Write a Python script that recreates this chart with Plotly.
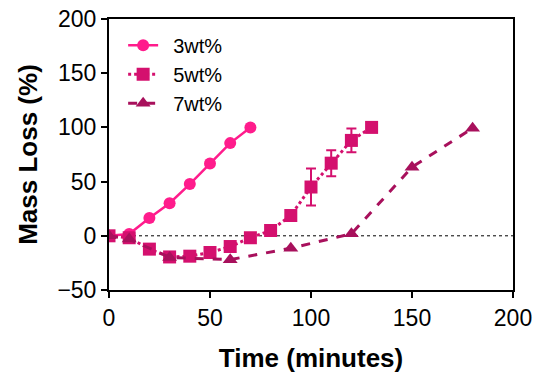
import plotly.graph_objects as go

# Data
t3 = [0, 10, 20, 30, 40, 50, 60, 70]
y3 = [0, 1.6, 16.5, 30, 47.7, 66.7, 85.5, 100]

t5 = [0, 10, 20, 30, 40, 50, 60, 70, 80, 90, 100, 110, 120, 130]
y5 = [0, -1.8, -12.3, -19.5, -18.8, -15.4, -9.9, -1.8, 4.9, 18.7, 45, 67, 88, 100]
e5 = [0, 0, 0, 0, 0, 0, 0, 0, 0, 0, 17, 12, 11, 0]

t7 = [0, 10, 30, 60, 90, 120, 150, 180]
y7 = [0, -3, -20, -22, -11.4, 1.8, 63.3, 99.3]

names = ["3wt%", "5wt%", "7wt%"]

c3 = "#FF1C8C"
c5 = "#D4106E"
c7 = "#A8105C"

FONT = "Arial, Liberation Sans, sans-serif"
PAD = "\u2002"

fig = go.Figure()
fig.add_hline(y=0, line=dict(color="black", width=1, dash="dot"), layer="below")

fig.add_trace(go.Scatter(
    x=t3, y=y3, name=PAD + names[0], mode="lines+markers",
    line=dict(color=c3, width=2.5),
    marker=dict(symbol="circle", size=12, color=c3)))
fig.add_trace(go.Scatter(
    x=t5, y=y5, name=PAD + names[1], mode="lines+markers",
    line=dict(color=c5, width=3, dash="dot"),
    marker=dict(symbol="square", size=13, color=c5),
    error_y=dict(type="data", array=e5, color=c5, thickness=2, width=5)))
fig.add_trace(go.Scatter(
    x=t7, y=y7, name=PAD + names[2], mode="lines+markers",
    line=dict(color=c7, width=3, dash="dash"),
    marker=dict(symbol="triangle-up", size=13, color=c7)))

fig.update_layout(
    width=534, height=380,
    margin=dict(l=109, r=21, t=19, b=90),
    plot_bgcolor="white", paper_bgcolor="white",
    font=dict(family=FONT, color="black", size=23),
    showlegend=True,
    legend=dict(x=0.035, y=0.975, xanchor="left", yanchor="top",
                font=dict(size=20, family=FONT), bgcolor="rgba(0,0,0,0)",
                tracegroupgap=0, itemwidth=30),
    xaxis=dict(range=[0, 200], tickvals=[0, 50, 100, 150, 200], automargin=False,
               showgrid=False, zeroline=False, showline=True, linecolor="black",
               linewidth=2, mirror=True, ticks="outside", ticklen=6, tickwidth=2,
               tickcolor="black", tickfont=dict(size=23),
               title=dict(text="<b>Time (minutes)</b>", font=dict(size=26), standoff=19)),
    yaxis=dict(range=[-50, 200], tickvals=[-50, 0, 50, 100, 150, 200], automargin=False,
               showgrid=False, zeroline=False, showline=True, linecolor="black",
               linewidth=2, mirror=True, ticks="outside", ticklen=6, tickwidth=2,
               tickcolor="black", tickfont=dict(size=23),
               title=dict(text="<b>Mass Loss (%)</b>", font=dict(size=26), standoff=12)),
)

fig.write_html("out.html", config={"displayModeBar": False},
               post_script="document.body.style.margin='0';")
